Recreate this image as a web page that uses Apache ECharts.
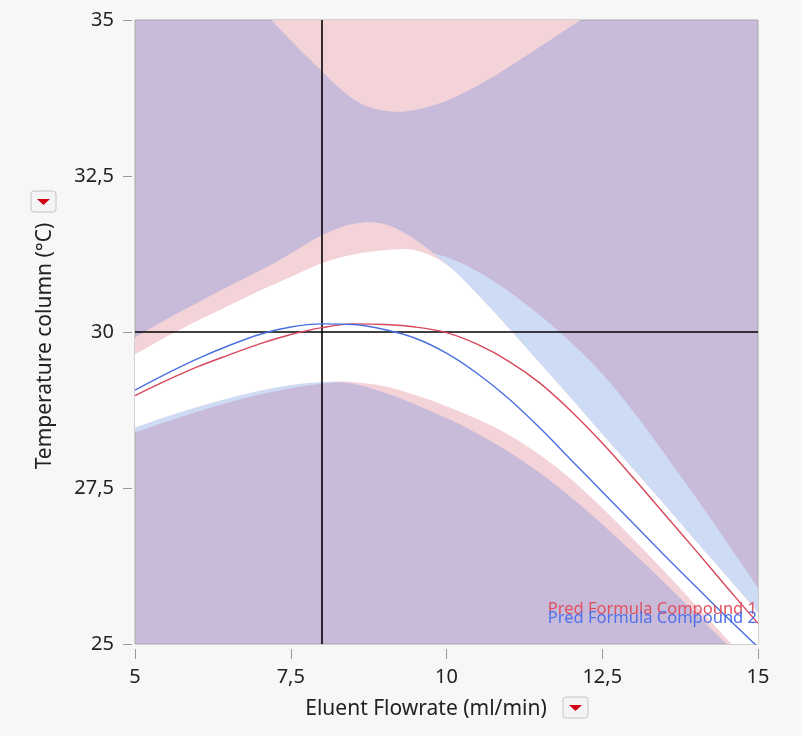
<!DOCTYPE html>
<html><head><meta charset="utf-8">
<script src="https://cdn.jsdelivr.net/npm/echarts@6/dist/echarts.min.js"></script>
<style>html,body{margin:0;padding:0;background:#f7f7f7;} #c{width:802px;height:736px;}</style>
</head><body><div id="c"></div>
<script>
// ---- data ----
const flowrate = [5.0,5.5,6.0,6.5,7.0,7.5,8.0,8.5,9.0,9.5,10.0,10.5,11.0,11.5,12.0,12.5,13.0,13.5,14.0,14.5,15.0];
// Compound 1 (red) limit contours
const upper1 = [29.64,29.92,30.18,30.42,30.66,30.88,31.10,31.24,31.31,31.31,31.20,30.97,30.65,30.27,29.83,29.33,28.72,28.05,27.35,26.63,25.90];
const lower1 = [28.39,28.56,28.72,28.87,29.00,29.10,29.17,29.20,29.13,28.99,28.81,28.60,28.35,28.03,27.64,27.18,26.68,26.16,25.62,25.08,24.53];
// Compound 2 (blue) limit contours
const upper2 = [29.91,30.20,30.47,30.73,30.98,31.26,31.55,31.73,31.73,31.48,31.08,30.60,30.06,29.50,28.94,28.36,27.80,27.23,26.65,26.08,25.50];
const lower2 = [28.47,28.64,28.80,28.94,29.06,29.15,29.20,29.17,29.03,28.84,28.62,28.37,28.08,27.74,27.35,26.92,26.46,25.98,25.49,24.99,24.48];
// Compound 2 feasible region at the top (curve up to the top edge)
const topFlow = [7.19,7.38,7.70,8.00,8.34,8.72,9.25,9.90,10.59,11.39,12.15];
const topTemp = [35.00,34.80,34.47,34.18,33.86,33.62,33.53,33.67,34.00,34.50,35.00];
// prediction contours through the current point
const pred1 = [28.98,29.22,29.44,29.63,29.81,29.96,30.07,30.13,30.12,30.08,29.99,29.80,29.53,29.18,28.73,28.22,27.66,27.08,26.50,25.91,25.33];
const pred2 = [29.07,29.33,29.57,29.78,29.96,30.08,30.13,30.12,30.04,29.90,29.66,29.33,28.93,28.46,27.95,27.44,26.93,26.42,25.92,25.43,24.95];
const seriesNames = ['Pred Formula Compound 1','Pred Formula Compound 2'];
const crossFlow = [8];
const crossTemp = [30];
const xTicks = [5,7.5,10,12.5,15];
const yTicks = [25,27.5,30,32.5,35];
const xTitle = 'Eluent Flowrate (ml/min)';
const yTitle = 'Temperature column (°C)';

// ---- build ----
const C = {purple:'#c8bbd9', pink:'#f3d3d8', blue:'#cedbf4', white:'#ffffff', red:'#d9475a', blueLine:'#4a6fe0'};
const FONT = '"Segoe UI","Noto Sans",sans-serif';
function pairs(xa, ya){ return xa.map((x,i)=>[x, ya[i]]); }
const whiteLo = lower1.map((v,i)=>Math.max(v, lower2[i]));
const whiteHi = upper1.map((v,i)=>Math.min(v, upper2[i]));

// smooth (Catmull-Rom as cubic Bezier) path through pixel points
function curvePath(pts, moveFirst){
  let d = (moveFirst ? 'M' : 'L') + pts[0][0].toFixed(2) + ' ' + pts[0][1].toFixed(2);
  const n = pts.length;
  for (let i = 0; i < n - 1; i++){
    const p0 = pts[Math.max(0, i-1)], p1 = pts[i], p2 = pts[i+1], p3 = pts[Math.min(n-1, i+2)];
    const c1 = [p1[0] + (p2[0]-p0[0])/6, p1[1] + (p2[1]-p0[1])/6];
    const c2 = [p2[0] - (p3[0]-p1[0])/6, p2[1] - (p3[1]-p1[1])/6];
    d += ' C' + c1[0].toFixed(2)+' '+c1[1].toFixed(2)+' '+c2[0].toFixed(2)+' '+c2[1].toFixed(2)+' '+p2[0].toFixed(2)+' '+p2[1].toFixed(2);
  }
  return d;
}
function bandSeries(name, xs, lo, hi, color, z){
  return {
    type:'custom', name:name, silent:true, z:z, clip:true, animation:false,
    data:[[xs[0], lo[0]]],
    renderItem:function(params, api){
      const top = xs.map((x,i)=>api.coord([x, hi[i]]));
      const bot = xs.map((x,i)=>api.coord([x, lo[i]])).reverse();
      const d = curvePath(top, true) + ' ' + curvePath(bot, false) + ' Z';
      return {type:'path', shape:{pathData:d}, style:{fill:color, stroke:null}};
    }
  };
}
function topSeries(name, xs, ys, color, z){
  return {
    type:'custom', name:name, silent:true, z:z, clip:true, animation:false,
    data:[[xs[0], ys[0]]],
    renderItem:function(params, api){
      const pts = xs.map((x,i)=>api.coord([x, ys[i]]));
      const d = curvePath(pts, true) + ' Z';
      return {type:'path', shape:{pathData:d}, style:{fill:color, stroke:null}};
    }
  };
}
const fmt = v => String(v).replace('.', ',');

const chart = echarts.init(document.getElementById('c'), null, {renderer:'canvas'});
const option = {
  backgroundColor:'#f7f7f7',
  animation:false,
  grid:{left:135, right:44, top:20, bottom:92, show:true, backgroundColor:C.purple, borderColor:'#a8a8a8', borderWidth:1},
  xAxis:{type:'value', min:xTicks[0], max:xTicks[xTicks.length-1], interval:2.5, offset:5,
    axisLine:{show:false}, axisTick:{show:true, length:10, lineStyle:{color:'#999', width:1}},
    splitLine:{show:false},
    axisLabel:{margin:18, fontSize:20, color:'#222', fontFamily:FONT, formatter:fmt}},
  yAxis:{type:'value', min:yTicks[0], max:yTicks[yTicks.length-1], interval:2.5, offset:3,
    axisLine:{show:false}, axisTick:{show:true, length:9, lineStyle:{color:'#999', width:1}},
    splitLine:{show:false},
    axisLabel:{margin:18, fontSize:20, color:'#222', fontFamily:FONT, formatter:fmt}},
  series:[
    bandSeries('band1', flowrate, lower1, upper1, C.blue, 1),
    bandSeries('band2', flowrate, lower2, upper2, C.pink, 2),
    topSeries('top2', topFlow, topTemp, C.pink, 3),
    bandSeries('both', flowrate, whiteLo, whiteHi, C.white, 4),
    {type:'line', name:seriesNames[0], data:pairs(flowrate, pred1), smooth:0.35, symbol:'none',
     lineStyle:{color:C.red, width:1.4}, silent:true, z:5},
    {type:'line', name:seriesNames[1], data:pairs(flowrate, pred2), smooth:0.35, symbol:'none',
     lineStyle:{color:C.blueLine, width:1.4}, silent:true, z:6,
     markLine:{silent:true, symbol:['none','none'], label:{show:false}, animation:false,
       lineStyle:{color:'#000', width:1.6, type:'solid'},
       data:[{xAxis:crossFlow[0]}, {yAxis:crossTemp[0]}]}}
  ],
  graphic:[
    {type:'text', x:45, y:346, rotation:Math.PI/2, style:{text:yTitle, font:'21px '+FONT, fill:'#222', align:'center', verticalAlign:'middle'}},
    {type:'text', x:426, y:709, style:{text:xTitle, font:'21px '+FONT, fill:'#222', align:'center', verticalAlign:'middle'}},
    {type:'text', x:757, y:609, z:100, style:{text:seriesNames[0], font:'16.5px '+FONT, fill:'#e0505e', align:'right', verticalAlign:'middle'}},
    {type:'text', x:757, y:618, z:101, style:{text:seriesNames[1], font:'16.5px '+FONT, fill:'#4f70ea', align:'right', verticalAlign:'middle'}},
    {type:'group', x:31, y:191, children:[
      {type:'rect', shape:{x:0,y:0,width:25,height:21,r:3}, style:{fill:'#f4f4f4', stroke:'#c4c4c4', lineWidth:1}},
      {type:'polygon', shape:{points:[[6,8],[19,8],[12.5,14]]}, style:{fill:'#d00010'}}
    ]},
    {type:'group', x:563, y:697, children:[
      {type:'rect', shape:{x:0,y:0,width:25,height:21,r:3}, style:{fill:'#f4f4f4', stroke:'#c4c4c4', lineWidth:1}},
      {type:'polygon', shape:{points:[[6,8],[19,8],[12.5,14]]}, style:{fill:'#d00010'}}
    ]}
  ]
};
chart.setOption(option);
</script></body></html>
